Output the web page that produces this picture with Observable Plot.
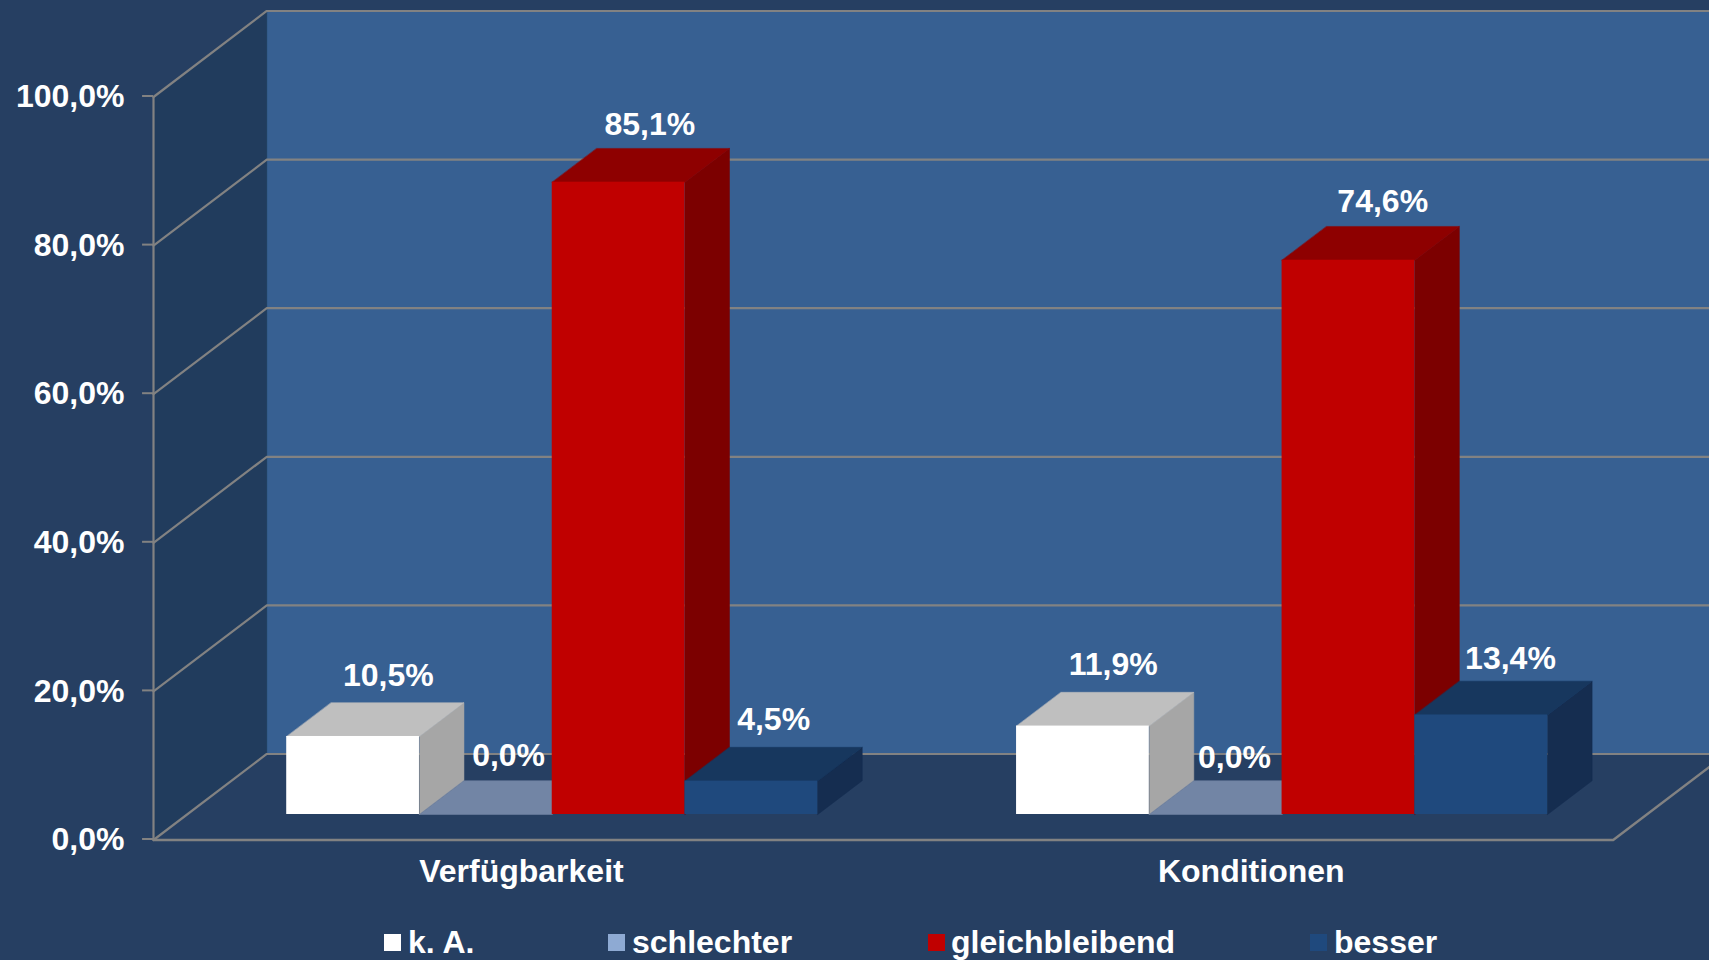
<!DOCTYPE html>
<html lang="de">
<head>
<meta charset="utf-8">
<title>Verfügbarkeit und Konditionen</title>
<script src="https://cdn.jsdelivr.net/npm/d3@7"></script>
<script src="https://cdn.jsdelivr.net/npm/@observablehq/plot@0.6"></script>
<style>
  html, body { margin: 0; padding: 0; background: #263f62; overflow: hidden; }
  svg { display: block; }
  #legend { position: relative; width: 1709px; height: 40px; color: #fff;
    font: bold 32px "Liberation Sans", Arial, sans-serif; }
  #legend i { position: absolute; top: 14px; width: 17px; height: 17px; }
  #legend span { position: absolute; top: 4px; line-height: 36px; white-space: nowrap; }
</style>
</head>
<body>
<div id="chart"></div>
<div id="legend"></div>
<script>
// ---- data ----
const categories = ["Verfügbarkeit", "Konditionen"];
const seriesNames = ["k. A.", "schlechter", "gleichbleibend", "besser"];
const verfuegbarkeit = [10.5, 0.0, 85.1, 4.5];
const konditionen = [11.9, 0.0, 74.6, 13.4];
const yTicks = [0, 20, 40, 60, 80, 100];

// ---- styles ----
const faces = [
  {front: "#ffffff", top: "#bfbfbf", side: "#a6a6a6", swatch: "#ffffff"},
  {front: "#95b3d7", top: "#7285a5", side: "#6f86a6", swatch: "#8eaad3"},
  {front: "#c00000", top: "#8e0000", side: "#7c0000", swatch: "#c00000"},
  {front: "#1f497d", top: "#17375e", side: "#152d50", swatch: "#1f497d"}
];
const wall = "#376092", sideWall = "#213c5d", gridColor = "#828282";
const font = 32;

// ---- 3D layout (in scale units: categories on x, percent on y, t = depth 0..1) ----
const DX = 0.1552, DY = 11.575;
const T0 = 0.2965, T1 = 0.6895;
const GAP = 0.1365, BAR = 0.1819;
const TICK = 0.015;
const px = (u, t) => u + t * DX;
const py = (v, t) => v + t * DY;
const poly = (pts) => pts.map(([u, v, t]) => ({x: px(u, t), y: py(v, t)}));
const face = (pts, fill) => Plot.line(poly(pts), {x: "x", y: "y", fill, stroke: fill, strokeWidth: 0.5, curve: "linear-closed"});

// label nudges relative to the centre of each bar's top face, in pixels
const labelNudge = [[13, -44], [0.5, -42], [9, -41], [0, -44], [8, -44], [-3.5, -39.5], [12, -42], [7, -39]];

const fmt = (v) => v.toFixed(1).replace(".", ",") + "%";

const marks = [];
// back wall and left wall
marks.push(Plot.rect([{}], {x1: px(0, 1), x2: px(2, 1), y1: py(0, 1), y2: py(100, 1), fill: wall, inset: 0}));
marks.push(face([[0, 0, 0], [0, 0, 1], [0, 100, 1], [0, 100, 0]], sideWall));
// gridlines running along left wall then back wall
for (const v of yTicks) {
  marks.push(Plot.line(poly([[0, v, 0], [0, v, 1], [2, v, 1]]), {x: "x", y: "y", stroke: gridColor, strokeWidth: 2.2}));
}
// floor outline
marks.push(Plot.line(poly([[0, 0, 0], [2, 0, 0], [2, 0, 1]]), {x: "x", y: "y", stroke: gridColor, strokeWidth: 2.4}));
// vertical axis with ticks
marks.push(Plot.ruleX([0], {y1: 0, y2: 100, stroke: gridColor, strokeWidth: 2.2}));
marks.push(Plot.ruleY(yTicks, {x1: -TICK, x2: 0, stroke: gridColor, strokeWidth: 2, dy: -1}));
marks.push(Plot.axisY({
  ticks: yTicks, tickFormat: fmt, tickSize: 0, tickPadding: 29,
  fill: "#fff", fontSize: font, fontWeight: "bold", label: null
}));
marks.push(Plot.axisX({
  ticks: [0.5, 1.5], tickFormat: (d) => categories[Math.floor(d)], tickSize: 0, tickPadding: 19,
  fill: "#fff", fontSize: font, fontWeight: "bold", dx: 3, label: null
}));
// bars
const groups = [verfuegbarkeit, konditionen];
const labels = [];
groups.forEach((values, g) => {
  values.forEach((v, s) => {
    const u0 = g + GAP + s * BAR, u1 = u0 + BAR, c = faces[s];
    if (v > 0) marks.push(face([[u1, 0, T0], [u1, 0, T1], [u1, v, T1], [u1, v, T0]], c.side));
    marks.push(face([[u0, v, T0], [u1, v, T0], [u1, v, T1], [u0, v, T1]], c.top));
    if (v > 0) marks.push(Plot.rect([{}], {
      x1: px(u0, T0), x2: px(u1, T0), y1: py(0, T0), y2: py(v, T0), fill: c.front, inset: 0
    }));
    const [dx, dy] = labelNudge[g * 4 + s];
    labels.push(Plot.text([fmt(v)], {
      x: px((u0 + u1) / 2, (T0 + T1) / 2), y: py(v, (T0 + T1) / 2), text: (d) => d,
      dx, dy, fill: "#fff", fontSize: font, fontWeight: "bold"
    }));
  });
});
marks.push(...labels);

const chart = Plot.plot({
  width: 1709, height: 920,
  marginLeft: 153, marginRight: 96.3, marginTop: 96.5, marginBottom: 80.5,
  x: {domain: [0, 2], axis: null},
  y: {domain: [0, 100], axis: null},
  style: {background: "#263f62", color: "#fff", fontFamily: '"Liberation Sans", Arial, sans-serif', fontWeight: "bold", fontSize: font + "px"},
  marks
});
document.getElementById("chart").append(chart);

// legend below the svg
const legendLeft = [384, 608, 928, 1310];
const legend = document.getElementById("legend");
seriesNames.forEach((name, i) => {
  const sw = document.createElement("i");
  sw.style.left = legendLeft[i] + "px";
  sw.style.background = faces[i].swatch;
  const t = document.createElement("span");
  t.style.left = (legendLeft[i] + 24 - (i === 2 ? 1 : 0)) + "px";
  t.textContent = name;
  legend.append(sw, t);
});
</script>
</body>
</html>
